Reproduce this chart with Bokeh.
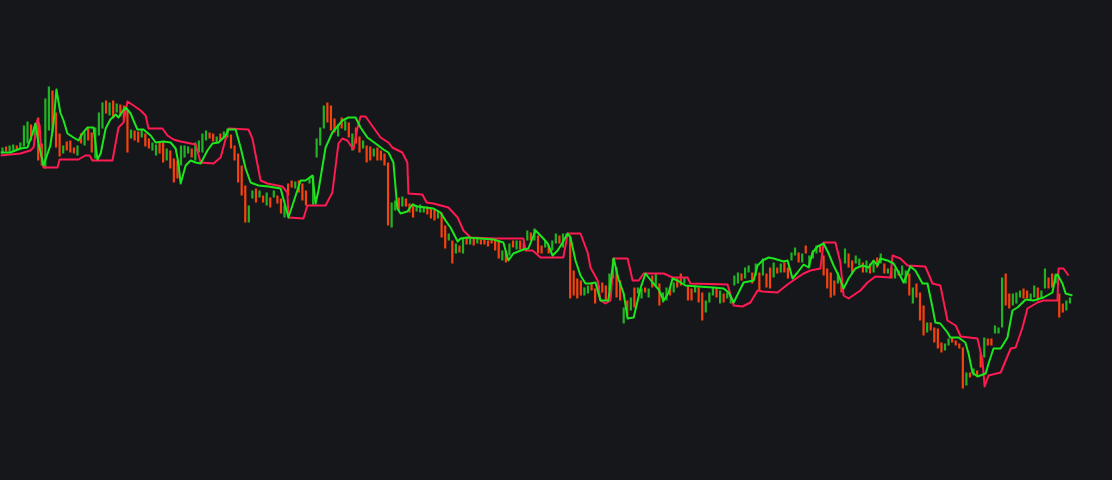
from bokeh.plotting import figure
from bokeh.models import ColumnDataSource, Range1d
from bokeh.embed import file_html
from bokeh.resources import INLINE

BG = "#16171b"
UP = "#22b322"
DOWN = "#f5420f"
FAST = "#1ee61e"
SLOW = "#ff1a52"

# candle bodies (open, close), one per bar
opens = [327,334,329,330,335,331,334,337,356,345,363,337,312,350,390,368,347,327,339,340,
         333,325,347,335,352,348,322,345,352,380,365,380,368,376,375,370,342,350,349,343,
         347,342,330,325,339,338,320,330,322,320,315,323,327,332,320,328,328,340,348,347,
         338,347,342,343,346,335,327,315,295,258,282,292,283,285,275,283,283,285,282,263,
         297,300,292,300,297,290,297,275,323,335,352,378,375,362,344,363,350,358,330,353,
         344,332,335,334,324,333,330,327,318,253,270,283,274,282,277,277,269,268,268,274,
         273,272,262,268,255,240,240,227,235,227,243,236,242,237,241,241,240,242,240,240,
         220,230,225,240,231,240,238,240,248,240,245,235,233,235,230,237,245,233,243,245,
         210,202,200,185,187,198,192,188,198,195,190,202,213,200,157,180,170,193,187,182,
         193,183,205,195,197,178,180,193,188,202,207,197,195,192,188,193,188,168,178,185,
         193,177,187,182,177,195,197,207,202,208,208,205,208,205,207,213,203,213,208,218,
         213,220,225,228,218,235,213,222,227,235,225,212,208,200,197,202,217,227,220,217,
         215,218,208,217,208,223,217,217,207,213,202,210,205,197,207,177,197,188,175,148,
         158,153,152,138,130,135,143,140,137,133,95,108,105,110,127,123,142,142,147,147,
         153,207,187,175,177,183,192,190,180,183,193,182,192,203,207,197,187,177,170,177]
closes = [333,329,335,336,330,338,355,359,340,353,320,315,382,394,348,333,324,335,330,328,
          327,335,337,348,340,328,353,368,378,367,378,362,377,364,360,328,351,340,338,351,
          334,332,338,336,327,318,332,312,298,302,335,335,334,323,338,340,347,350,342,339,
          344,340,349,352,332,320,298,285,258,275,290,278,290,278,288,273,290,277,267,275,
          285,293,299,288,280,275,303,305,342,353,375,358,350,348,356,352,360,343,347,337,
          328,340,318,320,332,320,320,315,255,278,280,270,284,274,268,263,275,276,274,266,
          262,260,270,243,232,247,217,237,228,242,236,242,235,242,236,236,234,237,230,222,
          230,218,237,233,240,231,230,250,240,252,227,227,240,227,240,247,237,247,247,182,
          185,182,185,193,195,190,177,195,188,180,207,222,183,180,173,165,183,173,193,192,
          188,192,193,207,175,188,193,185,198,193,195,203,180,180,195,178,160,180,188,193,
          183,190,178,188,185,205,208,200,213,215,197,217,190,222,193,192,218,207,217,208,
          202,228,233,218,227,227,225,230,235,228,205,192,183,185,208,188,232,213,207,225,
          222,208,220,207,220,213,227,207,212,202,212,205,215,210,185,193,183,160,145,158,
          150,138,132,128,137,142,138,135,132,92,108,103,112,104,113,143,135,135,155,153,
          203,175,172,187,188,190,182,182,187,195,180,190,212,192,193,207,163,168,180,183]

# fast (green) line, read at bar positions
fast_t = [-0.6,2.2,5.0,7.0,8.4,9.2,10.1,11.5,13.4,14.3,15.1,16.2,17.1,18.2,19.9,21.3,22.4,23.8,25.5,26.6,
          27.5,28.9,30.2,31.7,32.5,33.6,34.5,35.9,36.7,37.8,39.5,41.5,42.9,45.1,47.1,48.5,49.3,49.9,51.3,52.7,
          54.1,55.5,57.4,58.8,60.5,62.5,63.3,65.3,66.7,68.1,69.5,71.7,74.5,77.9,80.1,83.5,84.9,86.8,87.7,88.5,
          90.5,92.4,95.2,96.9,98.9,100.3,102.2,104.5,106.7,108.1,109.5,110.6,111.5,113.4,114.8,116.2,120.7,122.7,124.1,125.5,
          127.5,128.3,130.2,137.5,140.3,141.7,143.1,145.9,147.3,149.3,151.5,152.7,154.1,155.5,156.9,158.3,159.1,160.5,161.9,163.3,
          164.7,166.1,167.5,169.7,171.2,172.5,174.0,175.1,176.8,178.7,180.1,182.1,183.8,185.2,186.6,187.7,189.1,191.3,194.7,199.2,
          202.0,203.4,204.8,207.6,210.4,211.5,212.9,214.6,216.0,218.8,219.9,221.3,222.7,224.4,225.8,226.9,228.3,230.0,231.4,232.8,
          234.2,235.6,237.0,238.9,240.9,242.6,244.0,245.1,245.9,247.9,249.6,251.0,252.4,254.3,255.7,257.7,259.1,260.5,261.3,262.7,
          264.7,265.5,267.8,269.7,270.6,271.7,273.1,275.4,276.2,277.6,279.6,281.5,282.9,284.3,286.6,288.8,291.6,294.1,295.0,295.5,
          296.9,297.8,299.7]
fast_v = [328,328,332,333,347,357,337,315,335,357,391,368,360,347,343,340,347,353,353,321,
          327,352,361,366,363,369,373,367,360,351,351,345,338,339,338,332,317,297,315,320,
          318,317,330,337,338,345,351,351,333,312,298,295,294,292,263,300,300,305,277,290,
          333,348,360,363,363,353,343,337,331,328,318,272,267,269,276,274,272,268,260,253,
          239,242,243,241,238,220,227,231,232,250,242,237,225,230,238,247,243,220,205,197,
          197,198,180,180,222,202,187,162,163,192,207,198,191,180,188,202,200,195,194,193,
          192,188,178,198,200,215,220,223,222,219,220,202,208,216,213,228,234,237,227,215,
          205,192,202,212,215,213,220,215,222,220,217,208,198,214,210,197,197,173,158,157,
          148,143,143,138,127,108,104,107,117,132,132,143,170,173,181,180,183,188,205,206,
          197,187,185]

# slow (red) line, read at bar positions
slow_t = [-0.6,5.0,7.8,8.7,9.8,10.4,10.9,11.5,15.4,16.0,21.3,23.2,24.4,25.2,30.8,32.5,33.9,35.0,36.7,38.7,
          40.1,40.9,44.8,46.2,47.9,49.9,54.1,55.5,59.1,61.1,63.3,68.9,70.0,72.3,74.2,78.4,79.8,80.1,84.3,85.4,
          90.5,92.4,94.1,95.2,96.6,98.3,99.4,100.3,101.7,104.5,105.9,108.1,109.2,112.0,113.4,113.7,117.6,118.8,120.7,124.9,
          127.5,129.1,131.1,137.5,145.9,146.5,148.5,150.7,157.1,158.3,161.9,163.9,164.7,166.7,167.5,168.9,170.3,171.2,175.1,176.5,
          178.2,179.6,185.2,187.7,191.9,192.7,203.1,204.8,207.3,209.5,211.5,212.9,217.1,219.9,222.7,224.4,226.3,229.1,230.0,233.3,
          234.7,235.6,237.0,240.3,242.3,244.5,248.7,249.3,251.5,253.5,258.5,260.5,262.7,264.7,267.0,268.4,273.1,274.5,275.1,276.2,
          279.6,281.0,282.4,283.8,285.7,287.1,289.9,291.6,295.5,295.8,297.2,298.6]
slow_v = [325,327,330,333,361,355,325,313,313,321,321,325,325,320,320,353,358,379,375,370,
          365,352,352,345,341,339,336,318,317,323,352,351,342,300,297,294,288,263,262,275,
          275,288,337,342,340,331,352,364,364,350,343,338,333,328,318,287,286,278,277,273,
          263,250,243,242,242,230,230,223,223,247,247,228,213,200,180,177,180,222,222,200,
          200,207,207,203,203,197,196,175,174,178,190,189,188,196,203,207,210,212,238,238,
          218,185,182,190,198,204,203,225,222,215,214,197,195,160,155,144,142,120,94,105,
          108,120,132,133,153,172,178,180,180,212,212,205]

idx = list(range(len(opens)))
src = ColumnDataSource(dict(
    x=idx,
    top=[max(o, c) for o, c in zip(opens, closes)],
    bottom=[min(o, c) for o, c in zip(opens, closes)],
    color=[UP if c >= o else DOWN for o, c in zip(opens, closes)],
))

p = figure(width=1112, height=480, output_backend="svg", toolbar_location=None,
           x_axis_type=None, y_axis_type=None, min_border=0,
           x_range=Range1d(-0.56, 310.92), y_range=Range1d(0, 480),
           background_fill_color=BG, border_fill_color=BG, outline_line_color=None)
p.grid.visible = False

p.vbar(x="x", top="top", bottom="bottom", width=0.62, fill_color="color", line_color=None, source=src)
p.line(slow_t, slow_v, line_color=SLOW, line_width=2, line_join="round")
p.line(fast_t, fast_v, line_color=FAST, line_width=2, line_join="round")

html = file_html(p, INLINE)
html = html.replace("<head>", "<head><style>html,body{margin:0;padding:0;background:%s;overflow:hidden}</style>" % BG, 1)
open("out.html", "w").write(html)
